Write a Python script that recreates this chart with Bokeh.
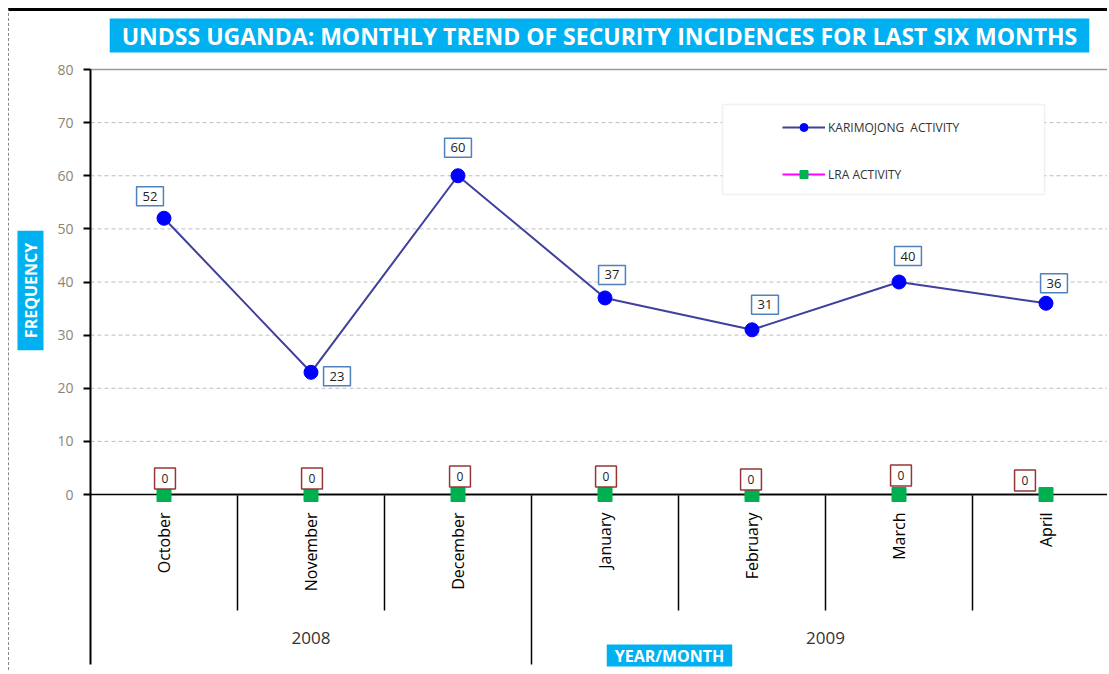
import math
from bokeh.plotting import figure
from bokeh.models import (ColumnDataSource, FixedTicker, Range1d, Label,
                          Legend, LegendItem, BoxAnnotation)
from bokeh.core.properties import value
from bokeh.embed import file_html
from bokeh.resources import INLINE

# ---------------- data ----------------
months = ["October", "November", "December", "January", "February", "March", "April"]
years = ["2008", "2009"]
months_per_year = [3, 4]
karimojong = [52, 23, 60, 37, 31, 40, 36]
lra = [0, 0, 0, 0, 0, 0, 0]
y_ticks = [0, 10, 20, 30, 40, 50, 60, 70, 80]
title_text = "UNDSS UGANDA: MONTHLY TREND OF SECURITY INCIDENCES FOR LAST SIX MONTHS"
series_names = ["KARIMOJONG  ACTIVITY", "LRA ACTIVITY"]
y_title = "FREQUENCY"
x_title = "YEAR/MONTH"

# ---------------- layout (label offsets in px) ----------------
k_dx = [-14, 26, 0, 7, 13, 9, 8]
k_dy = [-22, 4, -28, -23, -25, -26, -20]
l_dx = [1, 1, 2, 1, -1, 2, -21]
l_dy = [-16, -16, -18, -18, -15, -19, -14]

CANVAS_BOTTOM = 673             # page y of the canvas bottom
n = len(months)
xs = [i + 0.5 for i in range(n)]
PX = 425 / 80.0                 # pixels per y unit
CW = 147.0                      # pixels per category
x_start = (9 - 90) / CW
x_end = (1108 - 90) / CW
y_top = y_ticks[-1] + (69 - 11) / PX
y_bottom = -(CANVAS_BOTTOM - 494) / PX
y_sep_short = -(610 - 494) / PX
y_sep_long = -(664 - 494) / PX
y_month = -(512 - 494) / PX
y_year = -(637 - 494) / PX

p = figure(width=1099, height=CANVAS_BOTTOM - 11,
           x_range=Range1d(x_start, x_end),
           y_range=Range1d(y_bottom, y_top),
           x_axis_type=None, output_backend="svg", toolbar_location=None,
           min_border_left=0, min_border_top=0, min_border_right=0, min_border_bottom=0)
p.styles = {"margin-top": "8px", "margin-left": "8px",
            "border-top": "3px solid black", "border-left": "1px dashed #8a8a8a"}
p.outline_line_color = None
p.title.visible = False
p.ygrid.visible = False

# y axis drawn at the category origin
ax = p.yaxis[0]
ax.fixed_location = 0
ax.bounds = (y_sep_long, y_ticks[-1])
ax.ticker = FixedTicker(ticks=y_ticks)
ax.axis_line_color = "black"
ax.axis_line_width = 2
ax.major_tick_line_color = "black"
ax.major_tick_line_width = 2
ax.major_tick_out = 7
ax.major_tick_in = 0
ax.minor_tick_line_color = None
ax.major_label_text_color = "#8c8478"
ax.major_label_text_font = "Open Sans"
ax.major_label_text_font_size = "14px"
ax.major_label_standoff = 10

# horizontal grid lines
grid_y = y_ticks[1:-1]
p.segment(x0=[0] * len(grid_y), y0=grid_y, x1=[x_end] * len(grid_y), y1=grid_y,
          line_color="#bdbdbd", line_dash="4 3", line_width=1)
p.segment(x0=[0], y0=[y_ticks[-1]], x1=[x_end], y1=[y_ticks[-1]],
          line_color="#9a9a9a", line_width=1.5)

# category separators
bounds = list(range(1, n))
year_bounds = []
acc = 0
for c in months_per_year[:-1]:
    acc += c
    year_bounds.append(acc)
short = [b for b in bounds if b not in year_bounds]
p.segment(x0=short, y0=[0] * len(short), x1=short, y1=[y_sep_short] * len(short),
          line_color="black", line_width=1.5)
p.segment(x0=year_bounds, y0=[0] * len(year_bounds), x1=year_bounds,
          y1=[y_sep_long] * len(year_bounds), line_color="black", line_width=1.5)

# month labels
p.text(x=xs, y=[y_month] * n, text=months, angle=math.pi / 2,
       text_align="right", text_baseline="middle", text_color="black",
       text_font=value("Open Sans"), text_font_size="16px")

# year labels
year_x = []
acc = 0
for c in months_per_year:
    year_x.append(acc + c / 2.0)
    acc += c
p.text(x=year_x, y=[y_year] * len(years), text=years, text_align="center",
       text_baseline="middle", text_color="#333333",
       text_font=value("Open Sans"), text_font_size="17px")

# LRA series (line hidden under the zero axis line)
lra_line = p.line(xs, lra, line_color="#ff00ff", line_width=2)
p.segment(x0=[0], y0=[y_ticks[0]], x1=[x_end], y1=[y_ticks[0]], line_color="black", line_width=1.5)
lra_pts = p.scatter(xs, lra, marker="square", size=14, fill_color="#00b050", line_color="#00b050")

# Karimojong series
k_line = p.line(xs, karimojong, line_color="#3f3f9e", line_width=2)
k_pts = p.scatter(xs, karimojong, marker="circle", size=14, fill_color="#0000ff", line_color="#0000ff")

# data labels
ksrc = ColumnDataSource(dict(x=xs, y=karimojong, t=[str(v) for v in karimojong], dx=k_dx, dy=k_dy))
p.text(x="x", y="y", text="t", x_offset="dx", y_offset="dy", source=ksrc,
       text_align="center", text_baseline="middle", text_color="#222222",
       text_font=value("Open Sans"), text_font_size="13px",
       background_fill_color="white", border_line_color="#4f81bd", border_line_width=1.5,
       padding={"left": 6, "right": 6, "top": 5, "bottom": 5})
lsrc = ColumnDataSource(dict(x=xs, y=lra, t=[str(v) for v in lra], dx=l_dx, dy=l_dy))
p.text(x="x", y="y", text="t", x_offset="dx", y_offset="dy", source=lsrc,
       text_align="center", text_baseline="middle", text_color="#222222",
       text_font=value("Open Sans"), text_font_size="12px",
       background_fill_color="white", border_line_color="#953735", border_line_width=1.5,
       padding={"left": 7, "right": 7, "top": 6, "bottom": 6})

# legend
p.add_layout(BoxAnnotation(left=(722 - 90) / CW, right=(1044 - 90) / CW,
                           top=(494 - 104) / PX, bottom=(494 - 194) / PX,
                           fill_color="white", fill_alpha=1.0,
                           line_color="#d0d0d0", line_width=1.5, level="overlay"))
legend = Legend(items=[LegendItem(label=series_names[0], renderers=[k_line, k_pts]),
                       LegendItem(label=series_names[1], renderers=[lra_line, lra_pts])],
                location=(773, CANVAS_BOTTOM - 184), padding=0, margin=0, spacing=27,
                glyph_height=20, glyph_width=43, label_standoff=3,
                border_line_color=None, background_fill_alpha=0,
                label_text_font="Open Sans", label_text_font_size="12px",
                label_text_color="#333333")
p.add_layout(legend)

# title and axis titles (screen units from the frame's bottom-left corner)
p.add_layout(Label(x=590, y=CANVAS_BOTTOM - 35, x_units="screen", y_units="screen", text=title_text,
                   text_align="center", text_baseline="middle", text_color="white",
                   text_font="Open Sans", text_font_style="bold", text_font_size="23px",
                   background_fill_color="#00b0f0",
                   padding={"left": 12, "right": 12, "top": 1, "bottom": 1}))
p.add_layout(Label(x=21, y=CANVAS_BOTTOM - 290, x_units="screen", y_units="screen", text=y_title,
                   angle=math.pi / 2, text_align="center", text_baseline="middle",
                   text_color="white", text_font="Open Sans", text_font_style="bold",
                   text_font_size="16px", background_fill_color="#00b0f0",
                   padding={"left": 12, "right": 12, "top": 2, "bottom": 2}))
p.add_layout(Label(x=660, y=CANVAS_BOTTOM - 655, x_units="screen", y_units="screen", text=x_title,
                   text_align="center", text_baseline="middle",
                   text_color="white", text_font="Open Sans", text_font_style="bold",
                   text_font_size="16px", background_fill_color="#00b0f0",
                   padding={"left": 8, "right": 8, "top": 0, "bottom": 0}))

open("out.html", "w").write(file_html(p, INLINE))
